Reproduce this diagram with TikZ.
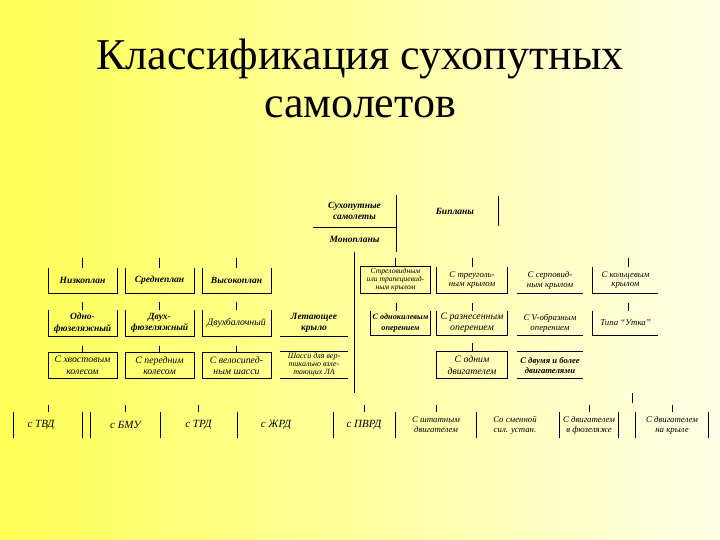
\documentclass[tikz,border=0pt]{standalone}
\usepackage{fontspec}
\setmainfont{Liberation Serif}
\begin{document}
\begin{tikzpicture}[x=1pt,y=-1pt,line width=0.8pt,
  cell/.style={minimum width=68pt,minimum height=25pt,inner sep=0pt,align=center,
    font=\fontsize{9.8}{11.5}\selectfont\itshape},
  bcell/.style={cell,font=\fontsize{9.5}{11.5}\selectfont\bfseries\itshape},
  mcell/.style={cell,font=\fontsize{8.8}{9.8}\selectfont\itshape},
  scell/.style={cell,font=\fontsize{8}{8}\selectfont\itshape},
  ecell/.style={cell,minimum height=26pt,font=\fontsize{11}{12}\selectfont\itshape}]
\useasboundingbox (0,0) rectangle (720,540);
\shade[left color={rgb,255:red,255;green,255;blue,85},
       middle color={rgb,255:red,255;green,255;blue,175},
       right color={rgb,255:red,255;green,255;blue,232}] (0,0) rectangle (720,540);

% title
\node[font=\fontsize{44}{48}\selectfont,align=center,inner sep=0pt] (title) at (360,78)
  {Классификация сухопутных\\самолетов};

% top
\node[bcell,minimum width=83pt,minimum height=32pt] (sux) at (354.5,211) {Сухопутные\\самолеты};
\node[bcell,minimum width=83pt,minimum height=25pt] (mono) at (354.5,239.5) {Монопланы};
\node[bcell,minimum width=86pt,minimum height=30pt] (bip) at (455,211) {Бипланы};
\draw (sux.north east) -- (mono.south east);
\draw (sux.south west) -- (sux.south east);
\draw (bip.north east) -- (bip.south east);
\coordinate (junc) at (354.5,393);
\draw (mono.south) -- (junc);

% left block, row 1
\node[bcell] (nizk) at (82.5,280.5) {Низкоплан};
\node[bcell] (sred) at (159.5,280.5) {Среднеплан};
\node[bcell] (vys)  at (236.5,280.5) {Высокоплан};
% row 2
\node[bcell,minimum height=26pt] (odnof) at (82.5,323) {Одно-\\фюзеляжный};
\node[bcell,minimum height=26pt] (dvuhf) at (159.5,323) {Двух-\\фюзеляжный};
\node[cell,minimum height=26pt] (dvuhb) at (236.5,323) {Двухбалочный};
\node[bcell,minimum height=26pt] (letk) at (314,323) {Летающее\\крыло};
% row 3
\node[cell] (hvost) at (82.5,365.5) {С хвостовым\\колесом};
\node[cell] (pered) at (159.5,365.5) {С передним\\колесом};
\node[cell] (velos) at (236.5,365.5) {С велосипед-\\ным шасси};
\node[scell,minimum height=26pt] (shassi) at (314,365) {Шасси для вер-\\тикально взле-\\тающих ЛА};

\foreach \n in {nizk,sred,vys,odnof,dvuhf,dvuhb}{
  \draw (\n.north west) -- (\n.south west) -- (\n.south east) -- (\n.north east);}
\foreach \n in {hvost,pered,velos}{
  \draw (\n.north west) rectangle (\n.south east);}
\draw (letk.south west) -- (letk.south east);
\draw (shassi.north west) -- (shassi.north east);
\draw (shassi.south west) -- (shassi.south east);
\foreach \n in {nizk,sred,vys}{\draw (\n.north) -- ++(0,-10);}
\foreach \n in {odnof,dvuhf,dvuhb}{\draw (\n.north) -- ++(0,-8);}
\foreach \n in {hvost,pered,velos}{\draw (\n.north) -- ++(0,-7);}

% right block, row 1
\node[scell,minimum width=69pt,minimum height=26pt,font=\fontsize{7.6}{8}\selectfont\itshape] (strel) at (395.5,280) {Стреловидным\\или трапециевид-\\ным крылом};
\node[mcell,minimum width=70pt,minimum height=26pt] (treug) at (472,280) {С треуголь-\\ным крылом};
\node[mcell,minimum width=66pt,minimum height=26pt] (serp) at (550,280) {С серповид-\\ным крылом};
\node[mcell,minimum width=65pt,minimum height=26pt] (kolc) at (625.5,280) {С кольцевым\\крылом};
\draw (strel.north west) rectangle (strel.south east);
\draw (treug.north west) -- (treug.south west) -- (treug.south east) -- (treug.north east);
\draw (serp.south west) -- (serp.south east);
\draw (kolc.north west) -- (kolc.south west) -- (kolc.south east);
\draw (strel.north) -- ++(0,-9);
\draw (treug.north) -- ++(0,-9);
\draw ([xshift=2.5pt]kolc.north) -- ++(0,-9);
% row 2
\node[bcell,minimum width=59pt,minimum height=24pt,font=\fontsize{8.2}{10.5}\selectfont\bfseries\itshape] (odnokil) at (400.5,323) {С однокилевым\\оперением};
\node[cell,minimum width=70pt,minimum height=24pt] (razn) at (472,323) {С разнесенным\\оперением};
\node[mcell,minimum width=66pt,minimum height=24pt] (vobr) at (550,323) {С V-образным\\оперением};
\node[mcell,minimum width=65pt,minimum height=24pt] (utka) at (625.5,323) {Типа “Утка”};
\draw (odnokil.north west) -- (odnokil.south west) -- (odnokil.south east) -- (odnokil.north east);
\draw (razn.north west) -- (razn.south west) -- (razn.south east) -- (razn.north east);
\draw (vobr.south west) -- (vobr.south east);
\draw (utka.north west) -- (utka.south west) -- (utka.south east);
\draw ([xshift=-4.5pt]odnokil.north) -- ++(0,-8);
\draw (razn.north) -- ++(0,-8);
\draw ([xshift=2.5pt]utka.north) -- ++(0,-8);
% row 3
\node[cell,minimum width=70pt,minimum height=26pt] (odindv) at (472,365) {С одним\\двигателем};
\node[bcell,minimum width=66pt,minimum height=26pt,font=\fontsize{8.6}{10}\selectfont\bfseries\itshape] (dvumya) at (550,365) {С двумя и более\\двигателями};
\draw (odindv.north west) rectangle (odindv.south east);
\draw (dvumya.north west) -- (dvumya.north east);
\draw (dvumya.south west) -- (dvumya.south east);
\draw (odindv.north) -- ++(0,-9);

% bottom row
\node[ecell,minimum width=68pt] (tvd) at (48,425) {с ТВД\hspace*{14pt}};
\node[ecell,minimum width=69pt] (bmu) at (125.5,425) {с БМУ};
\node[ecell,minimum width=77pt] (trd) at (198.5,425) {с ТРД};
\node[ecell,minimum width=96pt] (zhrd) at (285,425) {с ЖРД\hspace*{18pt}};
\node[ecell,minimum width=62pt] (pvrd) at (364,425) {с ПВРД};
\node[mcell,minimum width=79pt,minimum height=26pt] (shtat) at (436,425) {С штатным\\двигателем};
\node[mcell,minimum width=86pt,minimum height=26pt] (smen) at (515,425) {Со сменной\\сил. устан.};
\node[mcell,minimum width=58pt,minimum height=26pt] (fuz) at (589,425) {С двигателем\\в фюзеляже};
\node[mcell,minimum width=72pt,minimum height=26pt] (kryl) at (672,425) {С двигателем\\на крыле};
\draw (tvd.north west) -- (tvd.south west);
\draw (tvd.north east) -- (tvd.south east);
\draw (bmu.north west) -- (bmu.south west);
\draw (bmu.north east) -- (bmu.south east);
\draw (trd.north east) -- (trd.south east);
\draw (zhrd.north east) -- (zhrd.south east);
\draw (pvrd.north east) -- (pvrd.south east);
\draw (shtat.north east) -- (shtat.south east);
\draw (fuz.north west) -- (fuz.south west);
\draw (fuz.north east) -- (fuz.south east);
\draw (kryl.north west) -- (kryl.south west);
\draw (kryl.north east) -- (kryl.south east);
\foreach \n in {tvd,bmu,trd,pvrd,shtat,fuz,kryl}{\draw (\n.north) -- ++(0,-7);}
\coordinate (junc2) at (632,393);
\draw (junc2) -- ++(0,10);
\end{tikzpicture}
\end{document}
